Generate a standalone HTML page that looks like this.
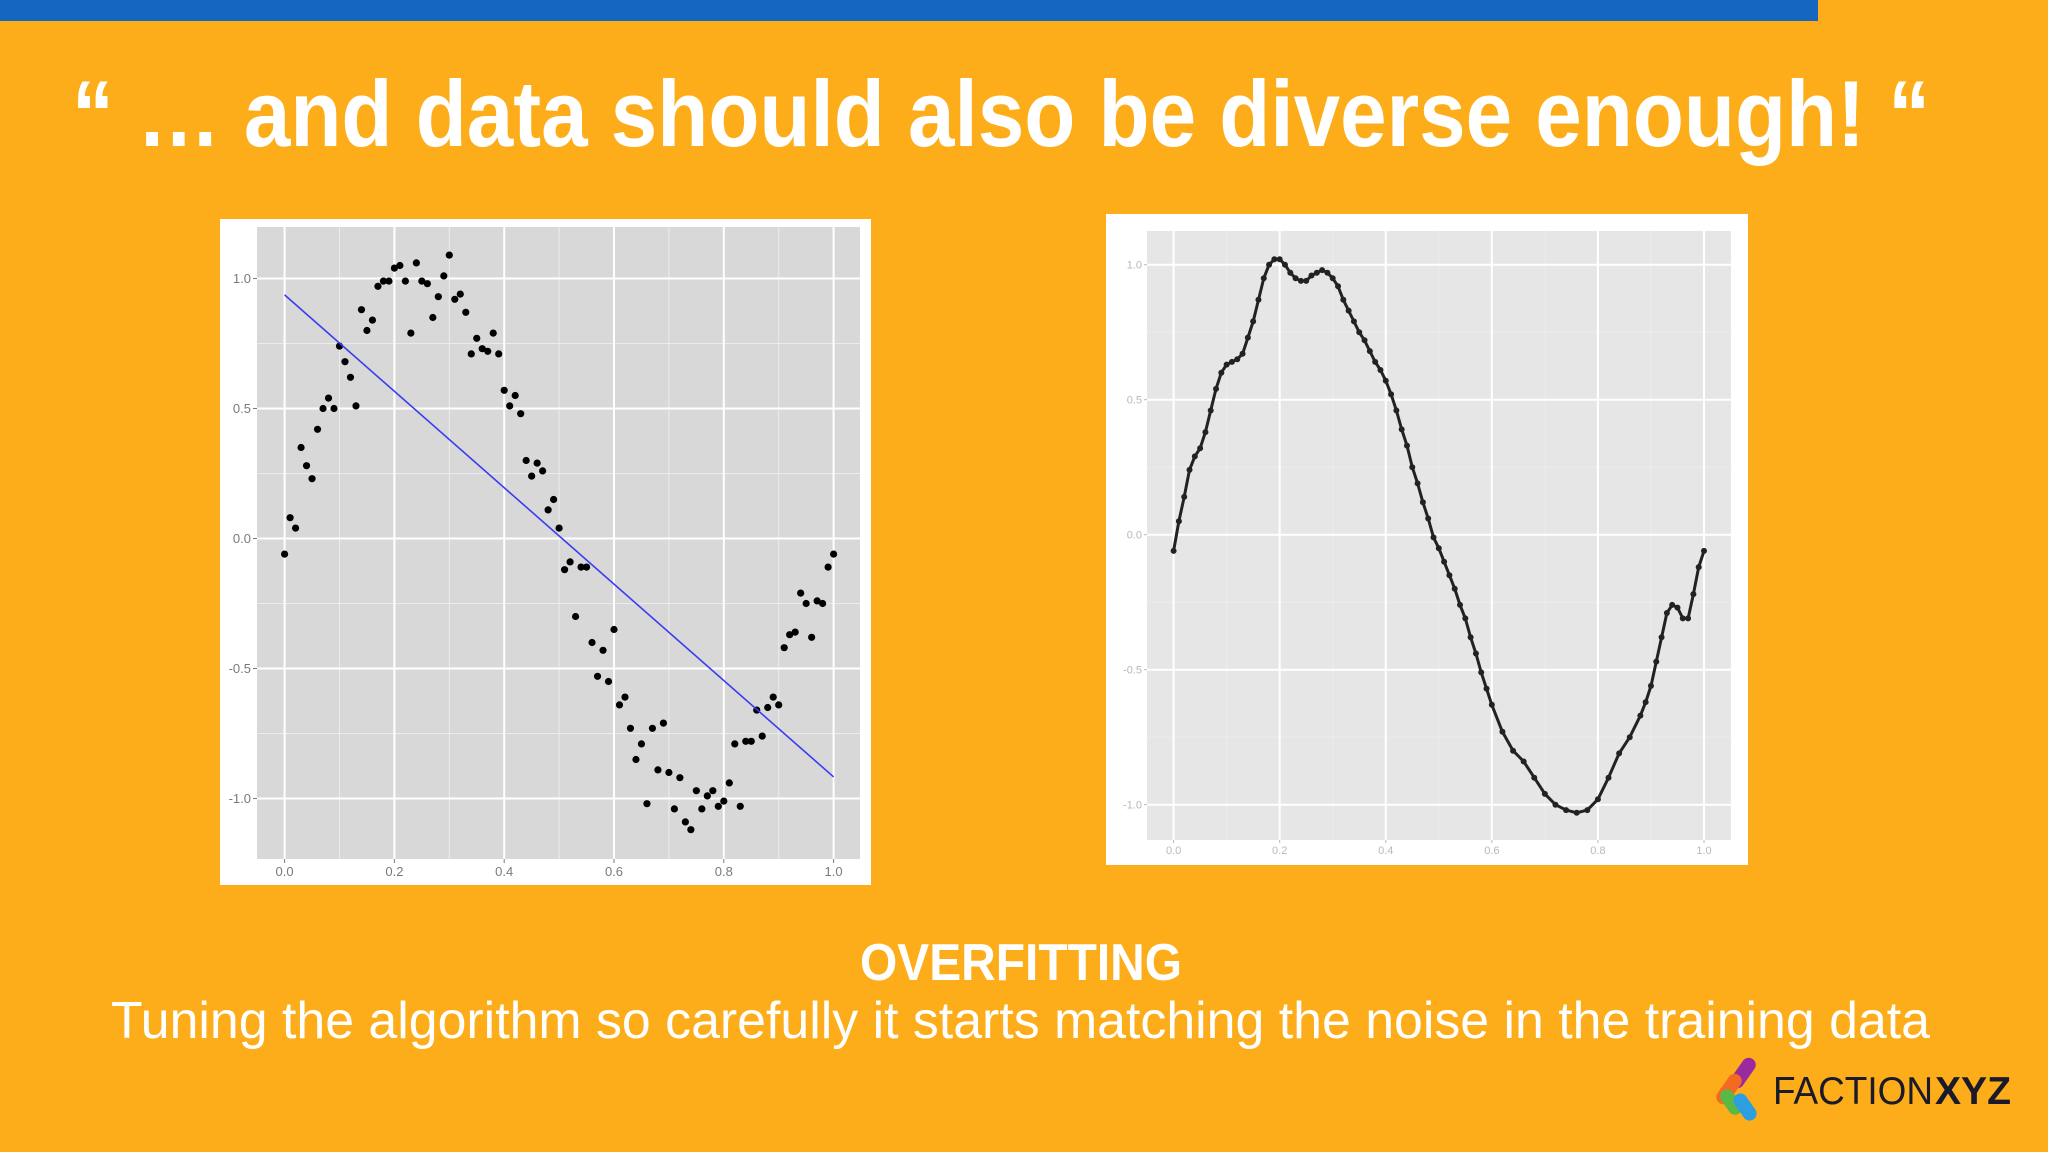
<!DOCTYPE html>
<html><head><meta charset="utf-8"><style>
html,body{margin:0;padding:0;background:#fdad19;}
svg{display:block;}
</style></head><body>
<svg id="root" width="2048" height="1152" viewBox="0 0 2048 1152" xmlns="http://www.w3.org/2000/svg" font-family="Liberation Sans, sans-serif">
<rect x="0" y="0" width="2048" height="1152" fill="#fdad19"/>
<rect x="0" y="0" width="1818" height="21" fill="#1466c0"/>
<text x="72" y="146" font-size="94" font-weight="bold" fill="#ffffff" textLength="1858" lengthAdjust="spacingAndGlyphs">“ … and data should also be diverse enough! “</text>

<rect x="220" y="219" width="651" height="666" fill="#ffffff"/>
<rect x="257" y="227" width="603" height="632" fill="#d8d8d8"/>
<g id="leftGrid"></g>
<g id="leftMarks"></g>

<rect x="1106" y="214" width="642" height="651" fill="#ffffff"/>
<rect x="1147" y="231" width="584" height="609" fill="#e6e6e6"/>
<g id="rightGrid"></g>
<g id="rightMarks"></g>

<text x="1021" y="980" text-anchor="middle" font-size="52" font-weight="bold" fill="#ffffff" textLength="322" lengthAdjust="spacingAndGlyphs">OVERFITTING</text>
<text x="111" y="1038" font-size="52" fill="#ffffff" textLength="1819" lengthAdjust="spacingAndGlyphs">Tuning the algorithm so carefully it starts matching the noise in the training data</text>

<g>
<rect x="1736" y="1056" width="14" height="34" rx="7" transform="rotate(35 1743 1073)" fill="#9b2aa0"/>
<rect x="1722" y="1072" width="14" height="34" rx="7" transform="rotate(35 1729 1089)" fill="#f46a22"/>
<rect x="1724" y="1088" width="14" height="28" rx="7" transform="rotate(-35 1731 1102)" fill="#5cb845"/>
<rect x="1738" y="1092" width="14" height="30" rx="7" transform="rotate(-35 1745 1107)" fill="#2d9fe0"/>
<text x="1773" y="1104" font-size="39" fill="#1a1a2a" textLength="160" lengthAdjust="spacingAndGlyphs">FACTION</text>
<text x="1935" y="1104" font-size="39" font-weight="bold" fill="#1a1a2a" textLength="76" lengthAdjust="spacingAndGlyphs">XYZ</text>
</g>
</svg>
<script>
// ---- Left chart data ----
const leftX = [0,.01,.02,.03,.04,.05,.06,.07,.08,.09,.10,.11,.12,.13,.14,.15,.16,.17,.18,.19,.20,.21,.22,.23,.24,.25,.26,.27,.28,.29,.30,.31,.32,.33,.34,.35,.36,.37,.38,.39,.40,.41,.42,.43,.44,.45,.46,.47,.48,.49,.50,.51,.52,.53,.54,.55,.56,.57,.58,.59,.60,.61,.62,.63,.64,.65,.66,.67,.68,.69,.70,.71,.72,.73,.74,.75,.76,.77,.78,.79,.80,.81,.82,.83,.84,.85,.86,.87,.88,.89,.90,.91,.92,.93,.94,.95,.96,.97,.98,.99,1.0];
const leftY = [-.06,.08,.04,.35,.28,.23,.42,.50,.54,.50,.74,.68,.62,.51,.88,.80,.84,.97,.99,.99,1.04,1.05,.99,.79,1.06,.99,.98,.85,.93,1.01,1.09,.92,.94,.87,.71,.77,.73,.72,.79,.71,.57,.51,.55,.48,.30,.24,.29,.26,.11,.15,.04,-.12,-.09,-.30,-.11,-.11,-.40,-.53,-.43,-.55,-.35,-.64,-.61,-.73,-.85,-.79,-1.02,-.73,-.89,-.71,-.90,-1.04,-.92,-1.09,-1.12,-.97,-1.04,-.99,-.97,-1.03,-1.01,-.94,-.79,-1.03,-.78,-.78,-.66,-.76,-.65,-.61,-.64,-.42,-.37,-.36,-.21,-.25,-.38,-.24,-.25,-.11,-.06];
const fitX = [0, 1];
const fitY = [0.937, -0.917];
const xTicks = [0, 0.2, 0.4, 0.6, 0.8, 1.0];
const xTickLabels = ["0.0","0.2","0.4","0.6","0.8","1.0"];
const yTicks = [1.0, 0.5, 0.0, -0.5, -1.0];
const yTickLabels = ["1.0","0.5","0.0","-0.5","-1.0"];

// ---- Right chart data ----
const rightX = [0,.01,.02,.03,.04,.05,.06,.07,.08,.09,.10,.11,.12,.13,.14,.15,.16,.17,.18,.19,.20,.21,.22,.23,.24,.25,.26,.27,.28,.29,.30,.31,.32,.33,.34,.35,.36,.37,.38,.39,.40,.41,.42,.43,.44,.45,.46,.47,.48,.49,.50,.51,.52,.53,.54,.55,.56,.57,.58,.59,.60,.62,.64,.66,.68,.70,.72,.74,.76,.78,.80,.82,.84,.86,.88,.89,.90,.91,.92,.93,.94,.95,.96,.97,.98,.99,1.0];
const rightY = [-.06,.05,.14,.24,.29,.32,.38,.46,.54,.60,.63,.64,.65,.67,.73,.79,.87,.95,1.0,1.02,1.02,1.0,.97,.95,.94,.94,.96,.97,.98,.97,.95,.92,.87,.83,.79,.75,.72,.68,.64,.61,.57,.52,.46,.39,.33,.25,.19,.12,.06,-.01,-.05,-.10,-.15,-.20,-.26,-.31,-.38,-.44,-.51,-.57,-.63,-.73,-.80,-.84,-.90,-.96,-1.0,-1.02,-1.03,-1.02,-.98,-.90,-.81,-.75,-.67,-.62,-.56,-.47,-.38,-.29,-.26,-.27,-.31,-.31,-.22,-.12,-.06];

const NS = 'http://www.w3.org/2000/svg';
function mk(tag, attrs, parent){ const e=document.createElementNS(NS,tag); for(const k in attrs) e.setAttribute(k,attrs[k]); parent.appendChild(e); return e; }

function drawAxes(g, sx, sy, panel, labelColor, fs, tickLen){
  // minor grid
  for(let i=0;i<xTicks.length-1;i++){
    const xm=(xTicks[i]+xTicks[i+1])/2;
    const l=mk('line',{x1:sx(xm),x2:sx(xm),y1:panel.y,y2:panel.y+panel.h,stroke:'#ececec','stroke-width':1},g);
    
    
  }
  for(let i=0;i<yTicks.length-1;i++){
    const ym=(yTicks[i]+yTicks[i+1])/2;
    const l=mk('line',{x1:panel.x,x2:panel.x+panel.w,y1:sy(ym),y2:sy(ym),stroke:'#ececec','stroke-width':1},g);
    
    
  }
  xTicks.forEach((v,i)=>{
    const l=mk('line',{x1:sx(v),x2:sx(v),y1:panel.y,y2:panel.y+panel.h,stroke:'#ffffff','stroke-width':2},g);
    
    
    const tk=mk('line',{x1:sx(v),x2:sx(v),y1:panel.y+panel.h,y2:panel.y+panel.h+tickLen,stroke:labelColor,'stroke-width':1},g);
    
    
    const t=mk('text',{x:sx(v),y:panel.y+panel.h+tickLen+fs,'text-anchor':'middle','font-size':fs,fill:labelColor},g);
    
    
    t.textContent=xTickLabels[i];
  });
  yTicks.forEach((v,i)=>{
    const l=mk('line',{x1:panel.x,x2:panel.x+panel.w,y1:sy(v),y2:sy(v),stroke:'#ffffff','stroke-width':2},g);
    
    
    const tk=mk('line',{x1:panel.x-tickLen,x2:panel.x,y1:sy(v),y2:sy(v),stroke:labelColor,'stroke-width':1},g);
    
    
    const t=mk('text',{x:panel.x-tickLen-2,y:sy(v)+fs*0.35,'text-anchor':'end','font-size':fs,fill:labelColor},g);
    
    
    t.textContent=yTickLabels[i];
  });
}

// Left chart
const lsx = v => 284.6 + v*549;
const lsy = v => 538.5 - v*260;
drawAxes(document.getElementById('leftGrid'), lsx, lsy, {x:257,y:227,w:603,h:632}, '#7a7a7a', 13, 4);
const lm = document.getElementById('leftMarks');
leftX.forEach((x,i)=>{
  const c=mk('circle',{cx:lsx(x),cy:lsy(leftY[i]),r:3.6,fill:'#000'},lm);
  
  
});
const fit=mk('line',{x1:lsx(fitX[0]),y1:lsy(fitY[0]),x2:lsx(fitX[1]),y2:lsy(fitY[1]),stroke:'#3b3bf0','stroke-width':1.6},lm);



// Right chart
const rsx = v => 1173.6 + v*530.4;
const rsy = v => 534.7 - v*270;
drawAxes(document.getElementById('rightGrid'), rsx, rsy, {x:1147,y:231,w:584,h:609}, '#b8b8b8', 11, 3);
const rm = document.getElementById('rightMarks');
const pts = rightX.map((x,i)=>rsx(x).toFixed(1)+','+rsy(rightY[i]).toFixed(1)).join(' ');
const pl=mk('polyline',{points:pts,fill:'none',stroke:'#222','stroke-width':3,'stroke-linejoin':'round'},rm);


rightX.forEach((x,i)=>{
  const c=mk('circle',{cx:rsx(x),cy:rsy(rightY[i]),r:3,fill:'#222'},rm);
  
  
});
</script>
</body></html>
